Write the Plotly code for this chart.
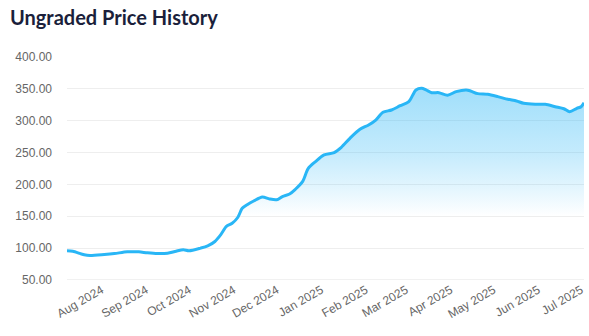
import plotly.graph_objects as go

dates = ["2024-07-08","2024-07-12","2024-07-20","2024-07-24","2024-08-03","2024-08-10","2024-08-19","2024-08-27",
         "2024-09-02","2024-09-09","2024-09-16","2024-09-22","2024-09-27","2024-10-01","2024-10-09","2024-10-14",
         "2024-10-19","2024-10-23","2024-10-27","2024-10-31","2024-11-04","2024-11-07","2024-11-11","2024-11-15",
         "2024-11-21","2024-11-26","2024-12-01","2024-12-05","2024-12-10","2024-12-14","2024-12-19","2024-12-23",
         "2024-12-28","2025-01-03","2025-01-10","2025-01-15","2025-01-21","2025-01-28","2025-02-03","2025-02-08",
         "2025-02-13","2025-02-19","2025-02-25","2025-03-03","2025-03-08","2025-03-12","2025-03-15","2025-03-19",
         "2025-03-24","2025-03-30","2025-04-05","2025-04-12","2025-04-15","2025-04-20","2025-04-27","2025-05-04",
         "2025-05-11","2025-05-17","2025-05-22","2025-05-30","2025-06-06","2025-06-13","2025-06-19","2025-06-23",
         "2025-06-28","2025-07-01","2025-07-03"]

prices = [95.8,95,89.5,88.4,90,91.5,94.2,94.2,
          92.6,91.5,92,95.2,97.3,95.8,100,103.6,
          110.4,120.9,134,139,148.5,162.5,169,174,
          180.3,177.2,176,181,185,192.3,204.3,225.2,
          235.8,246.3,250,258.3,272.4,286.5,293.3,301,
          313.2,316.8,323.6,330,348.3,351,348.3,344,
          344,340,345.7,348.3,346.7,342.5,341.4,337.8,
          333.6,331,327.3,325.7,325.7,322,318.8,314.1,
          319.4,322,328.3]

tick_dates = ["2024-08-01","2024-09-01","2024-10-01","2024-11-01","2024-12-01","2025-01-01",
              "2025-02-01","2025-03-01","2025-04-01","2025-05-01","2025-06-01","2025-07-01"]
tick_labels = ["Aug 2024","Sep 2024","Oct 2024","Nov 2024","Dec 2024","Jan 2025",
               "Feb 2025","Mar 2025","Apr 2025","May 2025","Jun 2025","Jul 2025"]
y_ticks = [50, 100, 150, 200, 250, 300, 350, 400]

fig = go.Figure()
fig.add_trace(go.Scatter(
    x=dates, y=prices, mode="lines",
    line=dict(color="#29b6f6", width=3, shape="spline", smoothing=0.8),
    fill="tozeroy",
    fillgradient=dict(
        type="vertical", start=150, stop=355,
        colorscale=[[0, "rgba(41,182,246,0)"], [0.25, "rgba(41,182,246,0.15)"],
                    [0.5, "rgba(41,182,246,0.28)"], [1, "rgba(41,182,246,0.45)"]],
    ),
    hoverinfo="skip",
))

fig.update_layout(
    width=589, height=336,
    margin=dict(l=67, r=3, t=57, b=56),
    paper_bgcolor="white", plot_bgcolor="white",
    showlegend=False,
    title=dict(text="<b>Ungraded Price History</b>", x=10/589, xref="container", xanchor="left",
               y=1-18/336, yref="container", yanchor="middle",
               font=dict(family="Lato", size=20, color="#1b1f3b")),
    xaxis=dict(range=["2024-07-08", "2025-07-03"], tickvals=tick_dates, ticktext=tick_labels,
               tickangle=-30, showgrid=False, zeroline=False, showline=False,
               tickfont=dict(family="Arial, Liberation Sans", size=12, color="#666666"),
               ticks=""),
    yaxis=dict(range=[50, 400], tickvals=y_ticks, tickformat=".2f",
               showgrid=True, gridcolor="#eeeeee", gridwidth=1, zeroline=False,
               showline=False, ticklabelstandoff=14,
               tickfont=dict(family="Arial, Liberation Sans", size=12, color="#666666")),
)
fig.add_hline(y=50, line=dict(color="#e2e2e2", width=1))

fig.write_html("out.html")
